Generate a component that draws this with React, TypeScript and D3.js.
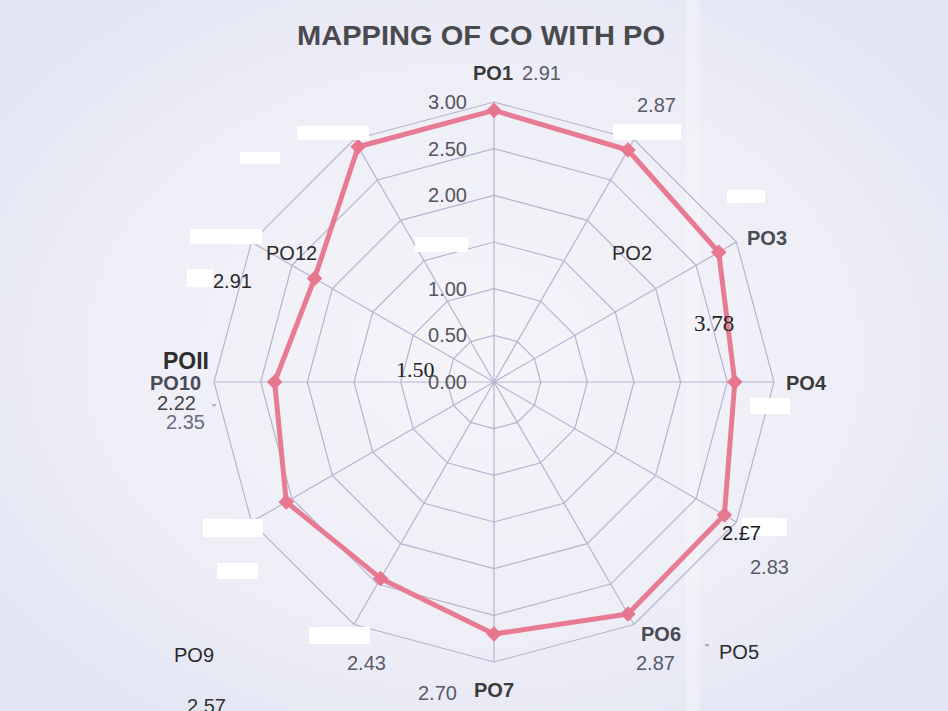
import * as d3 from 'd3';

const categories = ['PO1', 'PO2', 'PO3', 'PO4', 'PO5', 'PO6', 'PO7', 'PO8', 'PO9', 'PO10', 'PO11', 'PO12'];
const values = [2.91, 2.87, 2.78, 2.58, 2.85, 2.87, 2.70, 2.43, 2.57, 2.35, 2.22, 2.91];
const ringLevels = [0, 0.5, 1, 1.5, 2, 2.5, 3];
const tickLabels = ['0.00', '0.50', '1.00', '2.00', '2.50', '3.00'];

// labels as they sit on the scanned sheet (layout only)
const notes = [
  { t: 'PO1', x: 473, y: 80, bold: true, c: '#3a3a3a' },
  { t: '2.91', x: 522, y: 80, c: '#5a5a68' },
  { t: '2.87', x: 637, y: 112, c: '#5a5a68' },
  { t: 'PO3', x: 747, y: 245, bold: true, c: '#4a4a52' },
  { t: 'PO2', x: 612, y: 260, c: '#2a2a2a' },
  { t: '3.78', x: 694, y: 331, serif: true, c: '#222', size: 23 },
  { t: 'PO4', x: 786, y: 390, bold: true, c: '#3a3a3a' },
  { t: '2.£7', x: 722, y: 540, c: '#1a1a1a' },
  { t: '2.83', x: 750, y: 574, c: '#5a5a68' },
  { t: 'PO6', x: 641, y: 641, bold: true, c: '#4a4a52' },
  { t: '2.87', x: 636, y: 670, c: '#5a5a68' },
  { t: '"', x: 705, y: 652, c: '#777', size: 11 },
  { t: 'PO5', x: 719, y: 659, c: '#2a2a2a' },
  { t: 'PO7', x: 474, y: 697, bold: true, c: '#3a3a3a' },
  { t: '2.70', x: 418, y: 700, c: '#5a5a68' },
  { t: '2.43', x: 347, y: 670, c: '#5a5a68' },
  { t: 'PO9', x: 174, y: 662, c: '#2a2a2a' },
  { t: '2.57', x: 187, y: 713, c: '#333' },
  { t: 'POII', x: 163, y: 369, bold: true, c: '#2e2e2e', size: 23 },
  { t: 'PO10', x: 150, y: 390, bold: true, c: '#4a4a58' },
  { t: '2.22', x: 157, y: 410, c: '#444' },
  { t: '2.35', x: 166, y: 429, c: '#6a6c80' },
  { t: '"', x: 212, y: 412, c: '#888', size: 11 },
  { t: 'PO12', x: 266, y: 260, c: '#2a2a2a' },
  { t: '2.91', x: 213, y: 288, c: '#2a2a2a' },
  { t: '1.50', x: 396, y: 377, serif: true, c: '#222', size: 22 },
];

// whited-out patches on the scan
const patches = [
  [297, 126, 72, 14], [613, 124, 68, 16], [240, 152, 40, 12], [727, 190, 38, 13],
  [190, 229, 72, 15], [187, 269, 26, 18], [415, 237, 53, 15], [750, 398, 40, 16],
  [742, 518, 45, 18], [203, 519, 60, 18], [217, 563, 41, 16], [309, 627, 61, 17],
];

const W = 948;
const H = 711;
const cx = 494;
const cy = 382;

export default function App() {
  const r = d3.scaleLinear().domain([0, 3]).range([0, 280]);
  const angle = d3.scaleLinear().domain([0, categories.length]).range([0, 2 * Math.PI]);

  const ring = (v: number) =>
    d3.lineRadial<string>()
      .angle((_, i) => angle(i))
      .radius(() => r(v))
      .curve(d3.curveLinearClosed)(categories) as string;

  const dataLine = d3.lineRadial<number>()
    .angle((_, i) => angle(i))
    .radius(d => r(d))
    .curve(d3.curveLinearClosed)(values) as string;

  const pt = (v: number, i: number) => {
    const a = angle(i);
    return [r(v) * Math.sin(a), -r(v) * Math.cos(a)];
  };

  const sans = '"Liberation Sans", Arial, sans-serif';

  return (
    <svg width={W} height={H} style={{ position: 'absolute', left: 0, top: 0 }}>
      <defs>
        <radialGradient id="bg" cx="50%" cy="50%" r="65%">
          <stop offset="0%" stopColor="#f5f4f9" />
          <stop offset="60%" stopColor="#eeeef7" />
          <stop offset="100%" stopColor="#e1e4f3" />
        </radialGradient>
      </defs>
      <rect width={W} height={H} fill="url(#bg)" />
      <rect x={686} y={0} width={14} height={H} fill="#f8f8fc" opacity={0.35} />

      <text x={481} y={45} textAnchor="middle" fontFamily={sans} fontWeight="bold" fontSize={28}
        fill="#4a4a4e" textLength={368} lengthAdjust="spacingAndGlyphs">MAPPING OF CO WITH PO</text>

      <g transform={`translate(${cx},${cy})`}>
        {ringLevels.map(v => (
          <path key={v} d={ring(v)} fill="none" stroke="#b6b4cf" strokeWidth={1.2} />
        ))}
        {categories.map((c, i) => {
          const [x, y] = pt(3, i);
          return <line key={c} x1={0} y1={0} x2={x} y2={y} stroke="#b6b4cf" strokeWidth={1.2} />;
        })}
        <path d={dataLine} fill="none" stroke="#e87b94" strokeWidth={5} strokeLinejoin="round" />
        {values.map((v, i) => {
          const [x, y] = pt(v, i);
          return (
            <rect key={i} x={x - 5.5} y={y - 5.5} width={11} height={11} fill="#e7768f"
              transform={`rotate(45 ${x} ${y})`} />
          );
        })}
        {tickLabels.map(t => (
          <text key={t} x={-27} y={-r(+t) + 7} textAnchor="end" fontFamily={sans} fontSize={20}
            fill="#55555e">{t}</text>
        ))}
      </g>

      {patches.map(([x, y, w, h], i) => (
        <rect key={i} x={x} y={y} width={w} height={h} fill="#ffffff" />
      ))}

      {notes.map((n, i) => (
        <text key={i} x={n.x} y={n.y}
          fontFamily={n.serif ? '"Liberation Serif", "DejaVu Serif", serif' : sans}
          fontWeight={n.bold ? 'bold' : 'normal'} fontSize={n.size ?? 20} fill={n.c}>{n.t}</text>
      ))}
    </svg>
  );
}
